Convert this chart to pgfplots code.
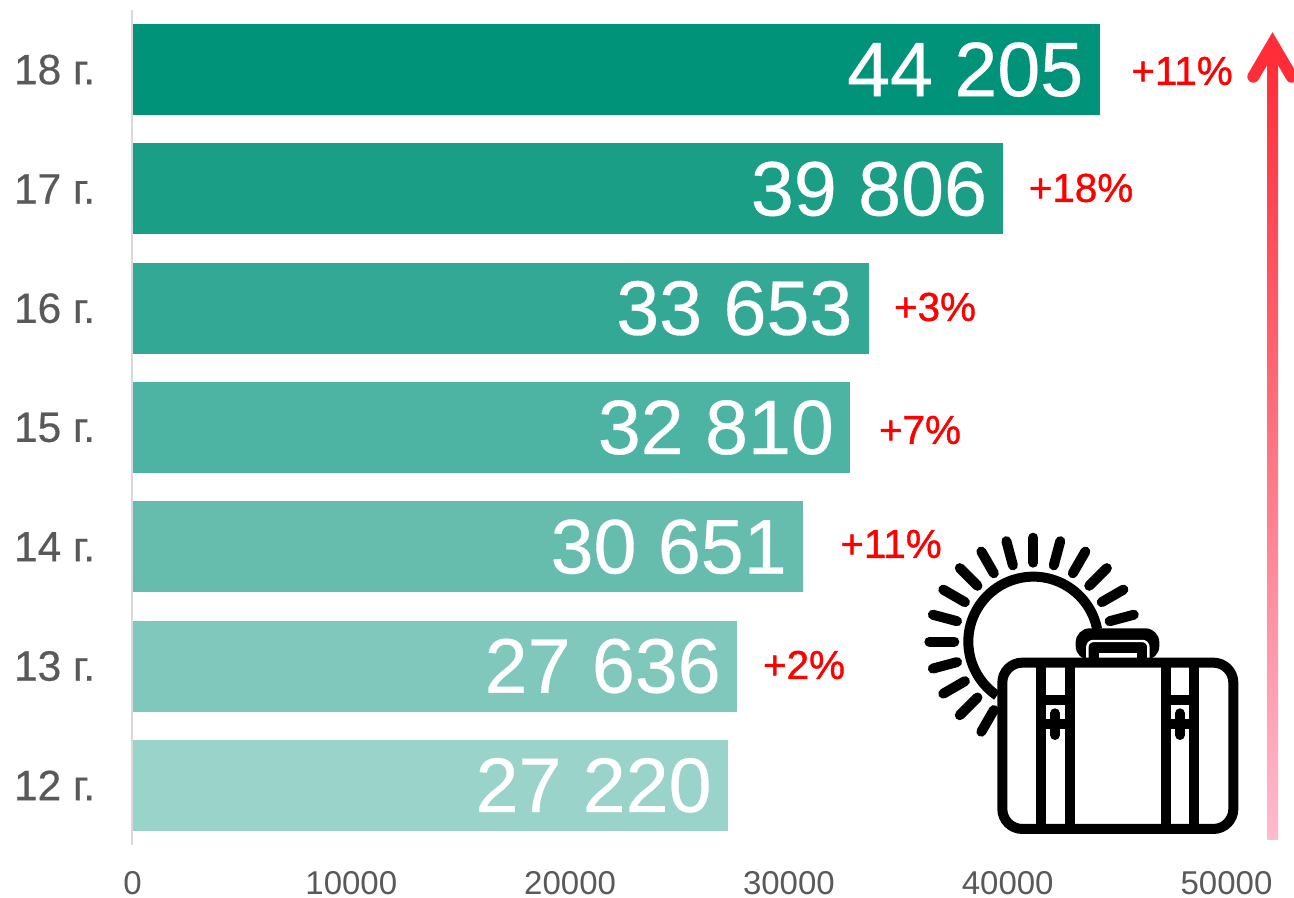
\documentclass[border=0pt]{standalone}
\usepackage{pgfplots}
\pgfplotsset{compat=1.18}
\usepackage{fontspec}
\setmainfont{Liberation Sans}
\newfontfamily\pctfont[FakeBold=1.0]{Liberation Sans}
\newfontfamily\catfont[FakeBold=0.5]{Liberation Sans}
\newfontfamily\valfont[FakeBold=0.4]{Liberation Sans}
\definecolor{tick}{HTML}{595959}
\definecolor{axisl}{HTML}{D9D9D9}
\definecolor{b6}{HTML}{00937A}
\definecolor{b5}{HTML}{1A9E86}
\definecolor{b4}{HTML}{33A995}
\definecolor{b3}{HTML}{4DB3A2}
\definecolor{b2}{HTML}{66BDAE}
\definecolor{b1}{HTML}{80C8BC}
\definecolor{b0}{HTML}{9AD3CA}
\definecolor{arrtop}{HTML}{FF2D37}
\definecolor{arrbot}{HTML}{FFBBCE}
\begin{document}
\begin{tikzpicture}
\path[use as bounding box] (0,0) rectangle (647pt,449pt);
\begin{axis}[
  at={(66.25pt,26.5pt)}, anchor=south west,
  scale only axis, width=547pt, height=417.5pt,
  xmin=0, xmax=50000, ymin=-0.5, ymax=6.5,
  axis x line=bottom, axis y line=left, clip=false,
  axis on top,
  x axis line style={draw=none,-},
  y axis line style={draw=axisl,line width=1pt,-},
  major tick length=0pt,
  xtick={0,10000,20000,30000,40000,50000},
  scaled x ticks=false,
  /pgf/number format/1000 sep={},
  /pgf/number format/assume math mode=true,
  xticklabel style={font=\fontsize{16.5}{20}\selectfont, text=tick, inner sep=0pt, anchor=center, yshift=-19pt},
  ytick={0,1,2,3,4,5,6},
  yticklabels={12 г.,13 г.,14 г.,15 г.,16 г.,17 г.,18 г.},
  yticklabel style={font=\catfont\fontsize{21.2}{24}\selectfont, text=tick, anchor=east, inner sep=0pt, xshift=-18.5pt},
  xbar, bar width=45.5pt, bar shift=0pt,
  point meta=explicit symbolic,
  nodes near coords,
  nodes near coords style={anchor=east, inner sep=0pt, xshift=-8pt, text=white, font=\valfont\fontsize{38.6}{44}\selectfont},
]
\addplot[fill=b0,draw=none] coordinates {(27220,0) [27 220]};
\addplot[fill=b1,draw=none] coordinates {(27636,1) [27 636]};
\addplot[fill=b2,draw=none] coordinates {(30651,2) [30 651]};
\addplot[fill=b3,draw=none] coordinates {(32810,3) [32 810]};
\addplot[fill=b4,draw=none] coordinates {(33653,4) [33 653]};
\addplot[fill=b5,draw=none] coordinates {(39806,5) [39 806]};
\addplot[fill=b6,draw=none] coordinates {(44205,6) [44 205]};
\end{axis}
\begin{scope}[x=0.5pt,y=-0.5pt,yshift=449pt]
% percent labels
\foreach \px/\py/\t in {1182/71/+11\%,1081/188/+18\%,935/307/+3\%,920/430/+7\%,891/544/+11\%,804/665/+2\%}
  \node[text=red,inner sep=0pt,font=\pctfont\fontsize{20.2}{24}\selectfont] at (\px,\py) {\t};
% arrow
\shade[top color=arrtop,bottom color=arrbot,draw=none] (1267.3,840) rectangle (1278,55);
\draw[color=arrtop,line width=6pt,line cap=round,line join=miter,miter limit=10] (1253.3,76.7) -- (1272.5,44) -- (1291.7,76.7);
\end{scope}
% icon, coordinates = 3x zoom of the region starting at (900,510)
\begin{scope}[x=0.5pt/3,y=-0.5pt/3,shift={(450pt,449pt-255pt)}]
\foreach \a in {15,30,45,60,75,90,105,120,135,150,165,180,195,210,225,240}
  \draw[line width=5pt,line cap=round] ({400+237*cos(\a)},{395-237*sin(\a)}) -- ({400+312*cos(\a)},{395-312*sin(\a)});
\draw[line width=5pt] ({400+195*cos(11)},{395-195*sin(11)}) arc[start angle=-11,end angle=-236,radius=195];
\fill[black,rounded corners=7pt] (527,450) rectangle (778,355);
\draw[white,line width=1.2pt,rounded corners=3pt] (562,450) -- (562,393) -- (745,393) -- (745,450);
\fill[white] (597,430) rectangle (710,445);
\draw[line width=5pt,fill=white,rounded corners=10pt] (307,458) rectangle (1000,957);
\foreach \xa/\xb/\xc in {422/509/465,797/883/840}{
  \draw[line width=5pt] (\xa,458) -- (\xa,957);
  \draw[line width=5pt] (\xb,458) -- (\xb,957);
  \draw[line width=5pt] (\xa,570) -- (\xb,570);
  \draw[line width=5pt] (\xa,642) -- (\xb,642);
  \draw[line width=5pt,line cap=round] (\xc,610) -- (\xc,675);
}
\end{scope}
\end{tikzpicture}
\end{document}
